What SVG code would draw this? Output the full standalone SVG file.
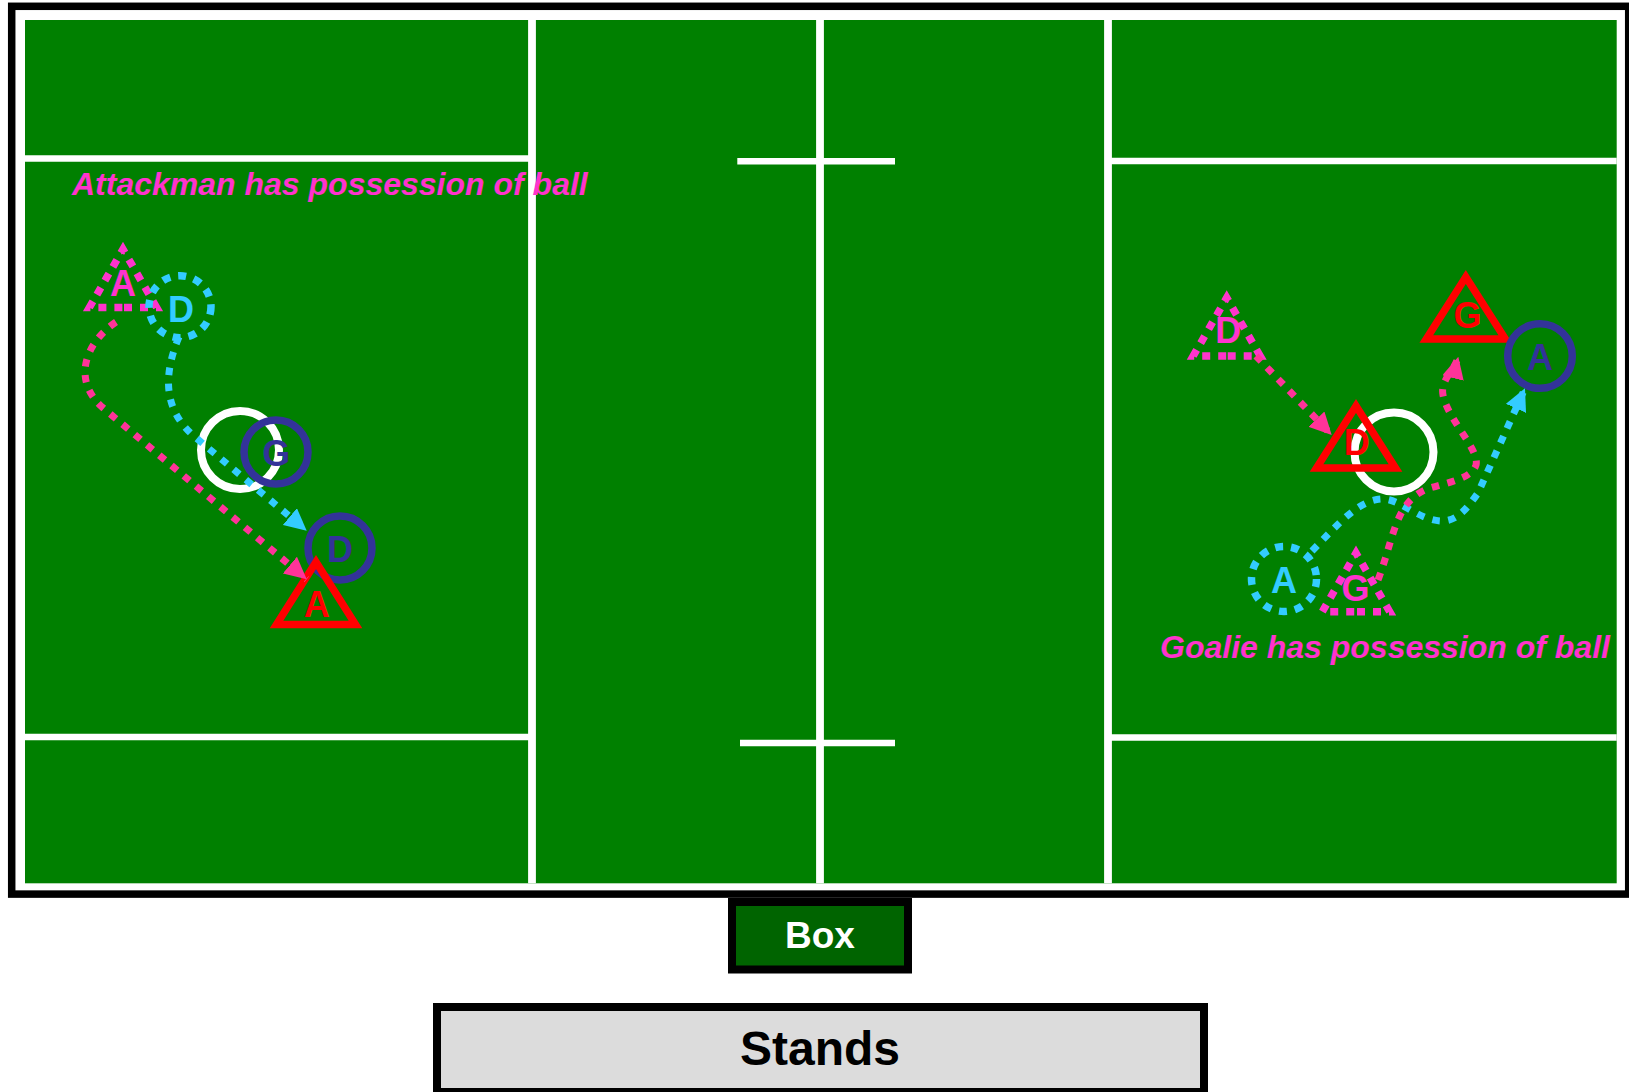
<svg xmlns="http://www.w3.org/2000/svg" width="1629" height="1092" viewBox="0 0 1629 1092">
<style>
.line{stroke:#FFFFFF;fill:none}
.v{stroke-width:7.8}
.h{stroke-width:6.5}
.lbl{font-family:"Liberation Sans",Arial,sans-serif;font-weight:bold;font-size:36px;text-anchor:middle}
.cap{font-family:"Liberation Sans",Arial,sans-serif;font-weight:bold;font-style:italic;font-size:32px;fill:#FF33CC}
.dash{stroke-dasharray:8 8;fill:none;stroke-width:7.5}
.tri{stroke-dashoffset:15}
.solid{fill:none;stroke-width:7.5}
.ball{fill:none;stroke:#FFFFFF;stroke-width:8}
.mag{stroke:#FF33CC}
.cyan{stroke:#33CCFF}
.navy{stroke:#333399}
.red{stroke:#FF0000}
.pathM{fill:none;stroke:#FF3399;stroke-width:7;stroke-dasharray:7.5 8.5}
.pathC{fill:none;stroke:#33CCFF;stroke-width:7;stroke-dasharray:7.5 8.5}
</style>
<defs>
<marker id="arrM" markerUnits="userSpaceOnUse" markerWidth="22" markerHeight="22" viewBox="0 0 22 22" refX="22" refY="11" orient="auto"><path d="M0,0 L22,11 L0,22 z" fill="#FF3399"/></marker>
<marker id="arrC" markerUnits="userSpaceOnUse" markerWidth="22" markerHeight="22" viewBox="0 0 22 22" refX="22" refY="11" orient="auto"><path d="M0,0 L22,11 L0,22 z" fill="#33CCFF"/></marker>
</defs>

<g id="field">
<rect x="11.7" y="6.3" width="1617" height="887.8" fill="#FFFFFF" stroke="#000000" stroke-width="7.5"/>
<rect x="25" y="20" width="1591.7" height="863.3" fill="#008000"/>
<line class="line v" x1="532" y1="20" x2="532" y2="883.3"/>
<line class="line v" x1="820" y1="20" x2="820" y2="883.3"/>
<line class="line v" x1="1108" y1="20" x2="1108" y2="883.3"/>
<line class="line h" x1="25" y1="158.5" x2="532" y2="158.5"/>
<line class="line h" x1="1108" y1="161" x2="1616.7" y2="161"/>
<line class="line h" x1="25" y1="737" x2="532" y2="737"/>
<line class="line h" x1="1108" y1="737.5" x2="1616.7" y2="737.5"/>
<line class="line h" x1="737.3" y1="161.3" x2="895" y2="161.3"/>
<line class="line h" x1="740" y1="743" x2="895" y2="743"/>
</g>

<g id="captions">
<text class="cap" x="72" y="195">Attackman has possession of ball</text>
<text class="cap" x="1160" y="658">Goalie has possession of ball</text>
</g>

<g id="ball-left"><circle class="ball" cx="240" cy="450" r="39"/></g>
<g id="ball-right"><circle class="ball" cx="1394" cy="452" r="39.5"/></g>

<g id="left-A-start">
<path class="dash tri mag" d="M123,307.5 L156.6,307.5 L123,249.3 L89.4,307.5 Z"/>
<text class="lbl" x="123" y="296" fill="#FF33CC">A</text>
</g>
<g id="left-D-start">
<circle class="dash cyan" cx="180" cy="306.7" r="31"/>
<text class="lbl" x="181" y="321.7" fill="#33CCFF">D</text>
</g>
<g id="left-G">
<text class="lbl" x="276.3" y="466" fill="#333399">G</text>
<circle class="solid navy" cx="276" cy="452" r="32"/>
</g>
<g id="left-D-end">
<circle class="solid navy" cx="340" cy="548" r="32"/>
<text class="lbl" x="340" y="561.7" fill="#333399">D</text>
</g>
<g id="left-A-end">
<polygon class="solid red" points="316,562 276.5,624.5 355.5,624.5"/>
<text class="lbl" x="316.7" y="617" fill="#FF0000">A</text>
</g>

<g id="right-D-start">
<path class="dash tri mag" d="M1226.7,356 L1260.2,356 L1226.7,297.7 L1193.2,356 Z"/>
<text class="lbl" x="1228.3" y="343.3" fill="#FF33CC">D</text>
</g>
<g id="right-D-end">
<text class="lbl" x="1356.7" y="455" fill="#FF0000">D</text>
<polygon class="solid red" points="1356,406 1316.5,468 1395.5,468"/>
</g>
<g id="right-G-end">
<polygon class="solid red" points="1465.8,277 1426.3,339 1505.3,339"/>
<text class="lbl" x="1467.5" y="328" fill="#FF0000">G</text>
</g>
<g id="right-A-end">
<circle class="solid navy" cx="1540" cy="356" r="32.3"/>
<text class="lbl" x="1540" y="370" fill="#333399">A</text>
</g>
<g id="right-A-start">
<circle class="dash cyan" cx="1284" cy="579" r="32.5"/>
<text class="lbl" x="1284" y="593" fill="#33CCFF">A</text>
</g>
<g id="right-G-start">
<path class="dash tri mag" d="M1356,611.7 L1389.7,611.7 L1356,553 L1322.3,611.7 Z"/>
<text class="lbl" x="1355.5" y="600.5" fill="#FF33CC">G</text>
</g>

<g id="connectors">
<path class="pathC" d="M179,337 C163,375 163,410 195,437 L306.7,530.7" marker-end="url(#arrC)"/>
<path class="pathM" d="M116,322 C85,343 72,380 102,407 L306.7,579.3" marker-end="url(#arrM)"/>
<path class="pathM" d="M1256,356 L1331.7,435" marker-end="url(#arrM)"/>
<path class="pathC" d="M1312,551 C1340,522 1360,499 1383,499 C1400,499 1420,521 1442,521 C1458,521 1468,507 1478,493 L1525,388.3" marker-end="url(#arrC)"/>
<path class="pathM" d="M1378,580 C1395,535 1395,500 1430,488 C1450,482 1472,478 1476,465 C1480,450 1448,420 1443,395 C1440,380 1455,370 1458.3,356.7" marker-end="url(#arrM)"/>
</g>

<g id="box">
<rect x="732" y="902" width="176" height="67.5" fill="#006400" stroke="#000000" stroke-width="8"/>
<text x="820" y="948" font-family="'Liberation Sans',Arial,sans-serif" font-weight="bold" font-size="37" fill="#FFFFFF" text-anchor="middle">Box</text>
</g>
<g id="stands">
<rect x="437" y="1007" width="767" height="85" fill="#DCDCDC" stroke="#000000" stroke-width="8"/>
<text x="820" y="1065" font-family="'Liberation Sans',Arial,sans-serif" font-weight="bold" font-size="48" fill="#000000" text-anchor="middle">Stands</text>
</g>
</svg>
